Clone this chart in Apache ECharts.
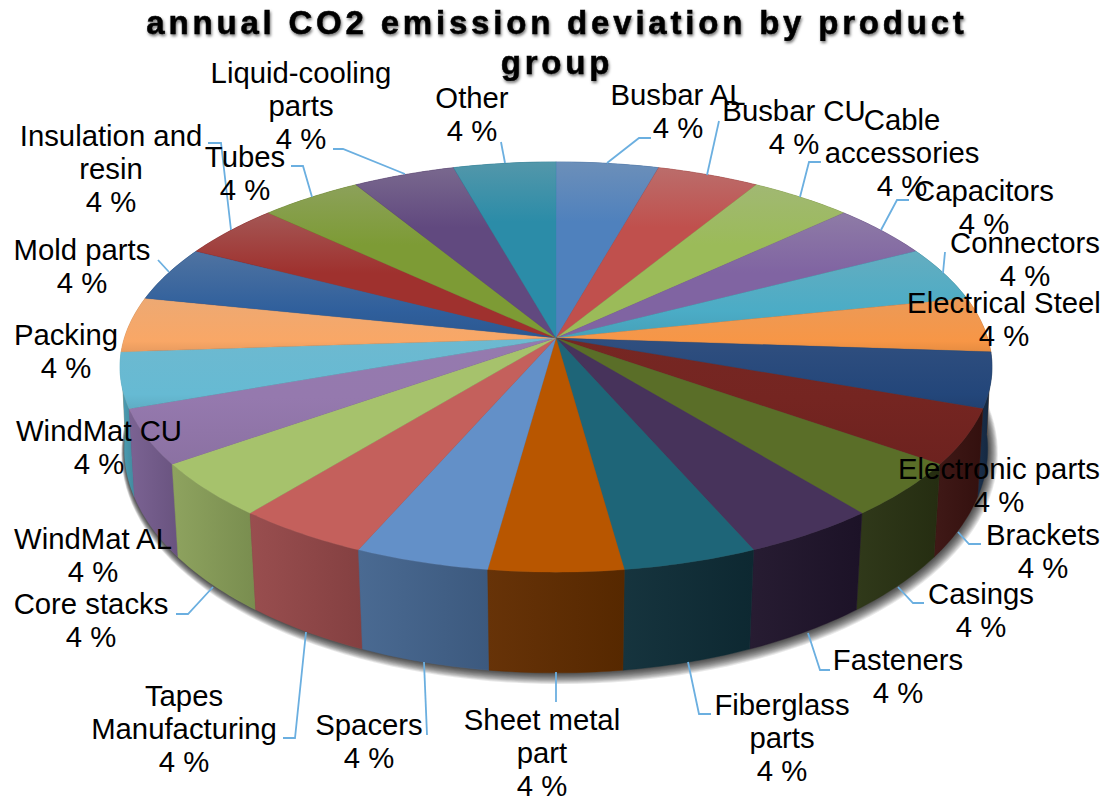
<!DOCTYPE html>
<html>
<head>
<meta charset="utf-8">
<script src="https://cdn.jsdelivr.net/npm/echarts@6/dist/echarts.min.js"></script>
<style>
html,body{margin:0;padding:0;background:#fff}
#c{width:1111px;height:800px}
#c text[style*="bold"]{letter-spacing:3.8px;filter:drop-shadow(1.5px 2px 1.5px rgba(0,0,0,0.55))}
</style>
</head>
<body>
<div id="c"></div>
<script>
// ---- data ----
const categories = ['Busbar AL','Busbar CU','Cable accessories','Capacitors','Connectors','Electrical Steel','Electronic parts','Brackets','Casings','Fasteners','Fiberglass parts','Sheet metal part','Spacers','Tapes Manufacturing','Core stacks','WindMat AL','WindMat CU','Packing','Mold parts','Insulation and resin','Tubes','Liquid-cooling parts','Other'];
const values = [4,4,4,4,4,4,4,4,4,4,4,4,4,4,4,4,4,4,4,4,4,4,4];
const titleText = 'annual CO2 emission deviation by product\ngroup';

// ---- styling ----
const topColors = ['#4F81BD','#C0504D','#9BBB59','#8064A2','#4BACC6','#F79646','#23467A','#752521','#5A6E28','#47335B','#1E6578','#B85600','#6390C8','#C4605C','#A6C26C','#9579AE','#66BAD3','#F9A766','#2F5F9C','#9F312E','#7D9B35','#61497F','#2B8CA8'];
const wallColors = ['#34557D','#7F3533','#67793B','#54426B','#2F7283','#A5642F','#142A45','#3A1210','#2A3313','#20152C','#0F2E38','#622D00','#44658F','#96494A','#8AA05A','#775E90','#4A9DB4','#B97C48','#20426C','#6E2220','#566A25','#433358','#1D6174'];

// ---- layout of the drawing ----
const topDisc  = {cx:556, cy:338, rx:431.6, ry:201, k:0.1415};
const baseDisc = {cx:556, cy:420, rx:428,   ry:220, k:0.13};
const labelLayout = {
 'Busbar AL':{x:678,y:111,t:'Busbar AL',line:[[607,163],[639,138],[651,138]]},
 'Busbar CU':{x:794,y:127,t:'Busbar CU',line:[[707,175],[719,121]]},
 'Cable accessories':{x:902,y:152,t:'Cable\naccessories',line:[[800,197],[809,162],[821,162]]},
 'Capacitors':{x:984,y:207,t:'Capacitors',line:[[881,230],[897,200],[909,200]]},
 'Connectors':{x:1025,y:259,t:'Connectors',line:[[943,273],[945,252]]},
 'Electrical Steel':{x:1004,y:319,t:'Electrical Steel'},
 'Electronic parts':{x:999,y:485,t:'Electronic parts'},
 'Brackets':{x:1043,y:551,t:'Brackets',line:[[958,532],[969,544],[981,544]]},
 'Casings':{x:981,y:610,t:'Casings',line:[[898,587],[913,603],[924,603]]},
 'Fasteners':{x:898,y:676,t:'Fasteners',line:[[808,633],[820,670],[830,670]]},
 'Fiberglass parts':{x:782,y:737,t:'Fiberglass\nparts',line:[[688,662],[699,714],[711,714]]},
 'Sheet metal part':{x:542,y:752,t:'Sheet metal\npart',line:[[556,672],[556,702]]},
 'Spacers':{x:369,y:741,t:'Spacers',line:[[424,662],[427,735]]},
 'Tapes Manufacturing':{x:184,y:728,t:'Tapes\nManufacturing',line:[[306,632],[295,738],[283,738]]},
 'Core stacks':{x:91,y:620,t:'Core stacks',line:[[213,587],[188,614],[176,614]]},
 'WindMat AL':{x:93,y:555,t:'WindMat AL'},
 'WindMat CU':{x:99,y:447,t:'WindMat CU'},
 'Packing':{x:66,y:351,t:'Packing'},
 'Mold parts':{x:82,y:266,t:'Mold parts',line:[[169,272],[158,260]]},
 'Insulation and resin':{x:111,y:168,t:'Insulation and\nresin',line:[[231,230],[221,143],[208,143]]},
 'Tubes':{x:245,y:173,t:'Tubes',line:[[312,197],[303,166],[291,166]]},
 'Liquid-cooling parts':{x:301,y:105,t:'Liquid-cooling\nparts',line:[[405,174],[343,149],[333,149]]},
 'Other':{x:472,y:114,t:'Other',line:[[505,163],[501,142]]}
};

// ---- geometry helpers ----
const total = values.reduce((a,b)=>a+b,0);
function sliceAngles(i){
  let s=0; for(let j=0;j<i;j++) s+=values[j];
  return [s/total*Math.PI*2,(s+values[i])/total*Math.PI*2];
}
function project(d,a){
  const u=Math.sin(a), v=-Math.cos(a), w=1-d.k*v;
  return [d.cx+d.rx*u/w, d.cy+d.ry*v/w];
}
function arc(d,a0,a1,n){
  const p=[]; for(let t=0;t<=n;t++) p.push(project(d,a0+(a1-a0)*t/n)); return p;
}
function hex(c){return [1,3,5].map(i=>parseInt(c.substr(i,2),16));}
function mix(c,t,f){
  const a=hex(c),b=hex(t);
  return 'rgb('+a.map((x,i)=>Math.round(x+(b[i]-x)*f)).join(',')+')';
}

function renderWall(params){
  const i=params.dataIndex, [a0,a1]=sliceAngles(i), mid=(a0+a1)/2;
  const v=-Math.cos(mid);
  const top=arc(topDisc,a0,a1,20), base=arc(baseDisc,a0,a1,20).reverse();
  const pts=top.concat(base);
  const xs=pts.map(p=>p[0]), col=wallColors[i];
  const fill=new echarts.graphic.LinearGradient(Math.min(...xs),0,Math.max(...xs),0,[
    {offset:0,color:mix(col,'#ffffff',0.03)},{offset:1,color:mix(col,'#000000',0.12)}],true);
  const kids=[{type:'polygon',z2:Math.round(v*100),shape:{points:pts},style:{fill:fill,stroke:col,lineWidth:0.4}}];
  if(i===0){
    // soft drop shadow under the disc: stacked translucent outlines
    for(let t=12;t>=1;t--){
      const d={cx:baseDisc.cx+t*0.3,cy:baseDisc.cy+t*0.3,rx:baseDisc.rx+t*0.55,ry:baseDisc.ry+t*0.55,k:baseDisc.k};
      kids.push({type:'polygon',z2:-200-t,shape:{points:arc(d,0,Math.PI*2,180)},
        style:{fill:'rgba(0,0,0,0.085)'}});
    }
  }
  return {type:'group',children:kids};
}
function renderTop(params){
  const i=params.dataIndex, [a0,a1]=sliceAngles(i), mid=(a0+a1)/2;
  const v=-Math.cos(mid);
  const pts=[[topDisc.cx,topDisc.cy]].concat(arc(topDisc,a0,a1,20));
  const ys=pts.map(p=>p[1]), y0=Math.min(...ys), y1=Math.max(...ys), h=Math.max(y1-y0,1);
  const sheen=Math.max(0,Math.min(1,0.5-v));
  const col=topColors[i];
  const dark=Math.abs(v)<0.5?0.07:0;
  const fill=new echarts.graphic.LinearGradient(0,y0,0,y1,[
    {offset:0,color:mix(col,'#b0b0b0',0.3*sheen)},
    {offset:Math.min(0.8,60/h),color:col},
    {offset:1,color:mix(col,'#000000',dark)}],true);
  return {type:'polygon',shape:{points:pts},style:{fill:fill,stroke:col,lineWidth:0.3}};
}
function renderLabel(params){
  const i=params.dataIndex, name=categories[i], l=labelLayout[name];
  const kids=[];
  if(l.line) kids.push({type:'polyline',shape:{points:l.line},style:{fill:'none',stroke:'#6BAFE0',lineWidth:1.8}});
  kids.push({type:'text',style:{x:l.x,y:l.y,text:l.t+'\n'+Math.round(values[i])+' %',
    font:'29.3px "Liberation Sans", Arial, sans-serif',fill:'#000',align:'center',verticalAlign:'middle',lineHeight:33}});
  return {type:'group',children:kids};
}

const seriesData = categories.map((n,i)=>({name:n,value:values[i]}));
const chart = echarts.init(document.getElementById('c'),null,{renderer:'svg',width:1111,height:800});
chart.setOption({
  animation:false,
  backgroundColor:'#fff',
  title:{text:titleText,left:557,top:2,padding:0,textAlign:'center',
    textStyle:{fontFamily:'"Liberation Sans", Arial, sans-serif',fontWeight:'bold',fontSize:33,lineHeight:40,color:'#000',
      textBorderColor:'#000',textBorderWidth:0.5}},
  series:[
    {type:'custom',coordinateSystem:'none',z:1,silent:true,data:seriesData,renderItem:renderWall},
    {type:'custom',coordinateSystem:'none',z:2,silent:true,data:seriesData,renderItem:renderTop},
    {type:'custom',coordinateSystem:'none',z:3,silent:true,data:seriesData,renderItem:renderLabel}
  ]
});
</script>
</body>
</html>
